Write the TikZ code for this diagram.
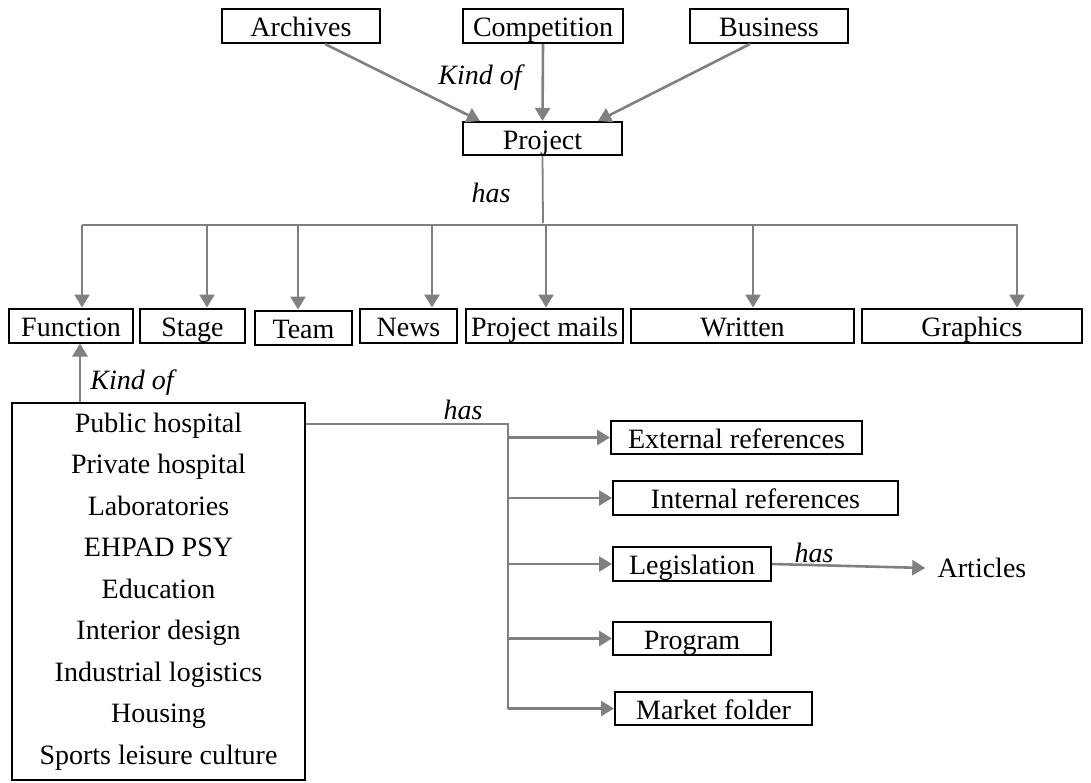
\documentclass[tikz,border=0pt]{standalone}
\usepackage{fontspec}
\setmainfont{Liberation Serif}
\usepackage{tikz}
\usetikzlibrary{arrows.meta,positioning,calc}
\definecolor{linkgray}{RGB}{128,128,128}

\begin{document}
\begin{tikzpicture}[
        x=0.5pt, y=-0.5pt,
        box/.style={rectangle, draw=black, line width=1pt, inner sep=1pt, minimum height=17pt, text height=10.5pt, text depth=0pt, align=center, font=\fontsize{14}{17}\selectfont},
        listbox/.style={rectangle, draw=black, line width=1pt, minimum width=146.5pt, minimum height=188.5pt, align=center, font=\fontsize{14}{20.75}\selectfont},
        relname/.style={font=\fontsize{14}{17}\selectfont\itshape, inner sep=0pt},
        arrow/.style={-{Triangle[length=6.5pt,width=7.5pt]}, line width=1.3pt, linkgray},
        thinline/.style={line width=0.9pt, linkgray}
    ]
        \useasboundingbox (0,0) rectangle (1091,782);

        % Kinds of project
        \node[box, minimum width=79pt] (archives) at (301,26) {Archives};
        \node[box, minimum width=80pt] (competition) at (543,26) {Competition};
        \node[box, minimum width=79pt] (business) at (769,26) {Business};
        \node[box, minimum width=79.5pt, minimum height=16.5pt] (project) at (542.5,138.5) {Project};

        \draw[arrow] ([xshift=12pt]archives.south) -- ([xshift=-31.25pt]project.north);
        \draw[arrow] (competition.south) -- (project.north);
        \draw[arrow] ([xshift=-9.5pt]business.south) -- ([xshift=27.75pt]project.north);
        \node[relname] (kindtop) at (480,78) {Kind of};

        % Parts of project
        \node[box, minimum width=62pt] (function) at (71,325.5) {Function};
        \node[box, minimum width=52.5pt] (stage) at (192.5,325.5) {Stage};
        \node[box, minimum width=48.5pt] (team) at (303.5,327.5) {Team};
        \node[box, minimum width=48.5pt] (news) at (408.5,325.5) {News};
        \node[box, minimum width=78.5pt] (mails) at (544.5,325.5) {Project mails};
        \node[box, minimum width=111.5pt] (written) at (742.5,325.5) {Written};
        \node[box, minimum width=110pt] (graphics) at (972,325.5) {Graphics};

        % Bus line under project
        \coordinate (bus) at (543,223);
        \coordinate (busL) at (82,225);
        \coordinate (busR) at (1018,225);
        \draw[thinline] (project.south) -- (bus);
        \draw[linkgray, line width=1pt] (busL) -- (busR);
        \node[relname] (hastop) at (491,193) {has};

        \foreach \n/\x in {function/82, stage/207, team/298, news/432, mails/546, written/753, graphics/1017}
        {
            \coordinate (b\n) at (\x,225);
            \draw[arrow] (b\n) -- (b\n |- \n.north);
        }

        % Kinds of function
        \node[listbox] (kinds) at (158.5,591.5) {Public hospital\\Private hospital\\Laboratories\\EHPAD PSY\\Education\\Interior design\\Industrial logistics\\Housing\\Sports leisure culture};
        \draw[arrow] ([xshift=4.5pt]function.south |- kinds.north) -- ([xshift=4.5pt]function.south);
        \node[relname] (kindleft) at (132,383) {Kind of};

        % Documents of function
        \node[box, minimum width=125.5pt, minimum height=16.5pt] (external) at (736.5,437.5) {External references};
        \node[box, minimum width=142.5pt] (internal) at (755.5,498) {Internal references};
        \node[box, minimum width=79pt] (legislation) at (692,564) {Legislation};
        \node[box, minimum width=79pt, minimum height=16.5pt] (program) at (692,638.5) {Program};
        \node[box, minimum width=98.5pt, minimum height=16.5pt] (market) at (713.5,708.5) {Market folder};
        \node[font=\fontsize{14}{17}\selectfont, inner sep=6pt] (articles) at (982,568) {Articles};

        \coordinate (trunk) at (508,424);
        \draw[thinline] (trunk -| kinds.east) -- (trunk) -- (trunk |- market.west);
        \node[relname] (hasleft) at (463,410) {has};

        \draw[arrow] (trunk |- external.west) -- (external.west);
        \draw[arrow] (trunk |- internal.west) -- (internal.west);
        \draw[arrow] (trunk |- legislation.west) -- (legislation.west);
        \draw[arrow] (trunk |- program.west) -- (program.west);
        \draw[arrow] (trunk |- market.west) -- (market.west);

        \draw[arrow] (legislation.east) -- (articles.west);
        \node[relname] (hasright) at (814,553) {has};

    \end{tikzpicture}
\end{document}
